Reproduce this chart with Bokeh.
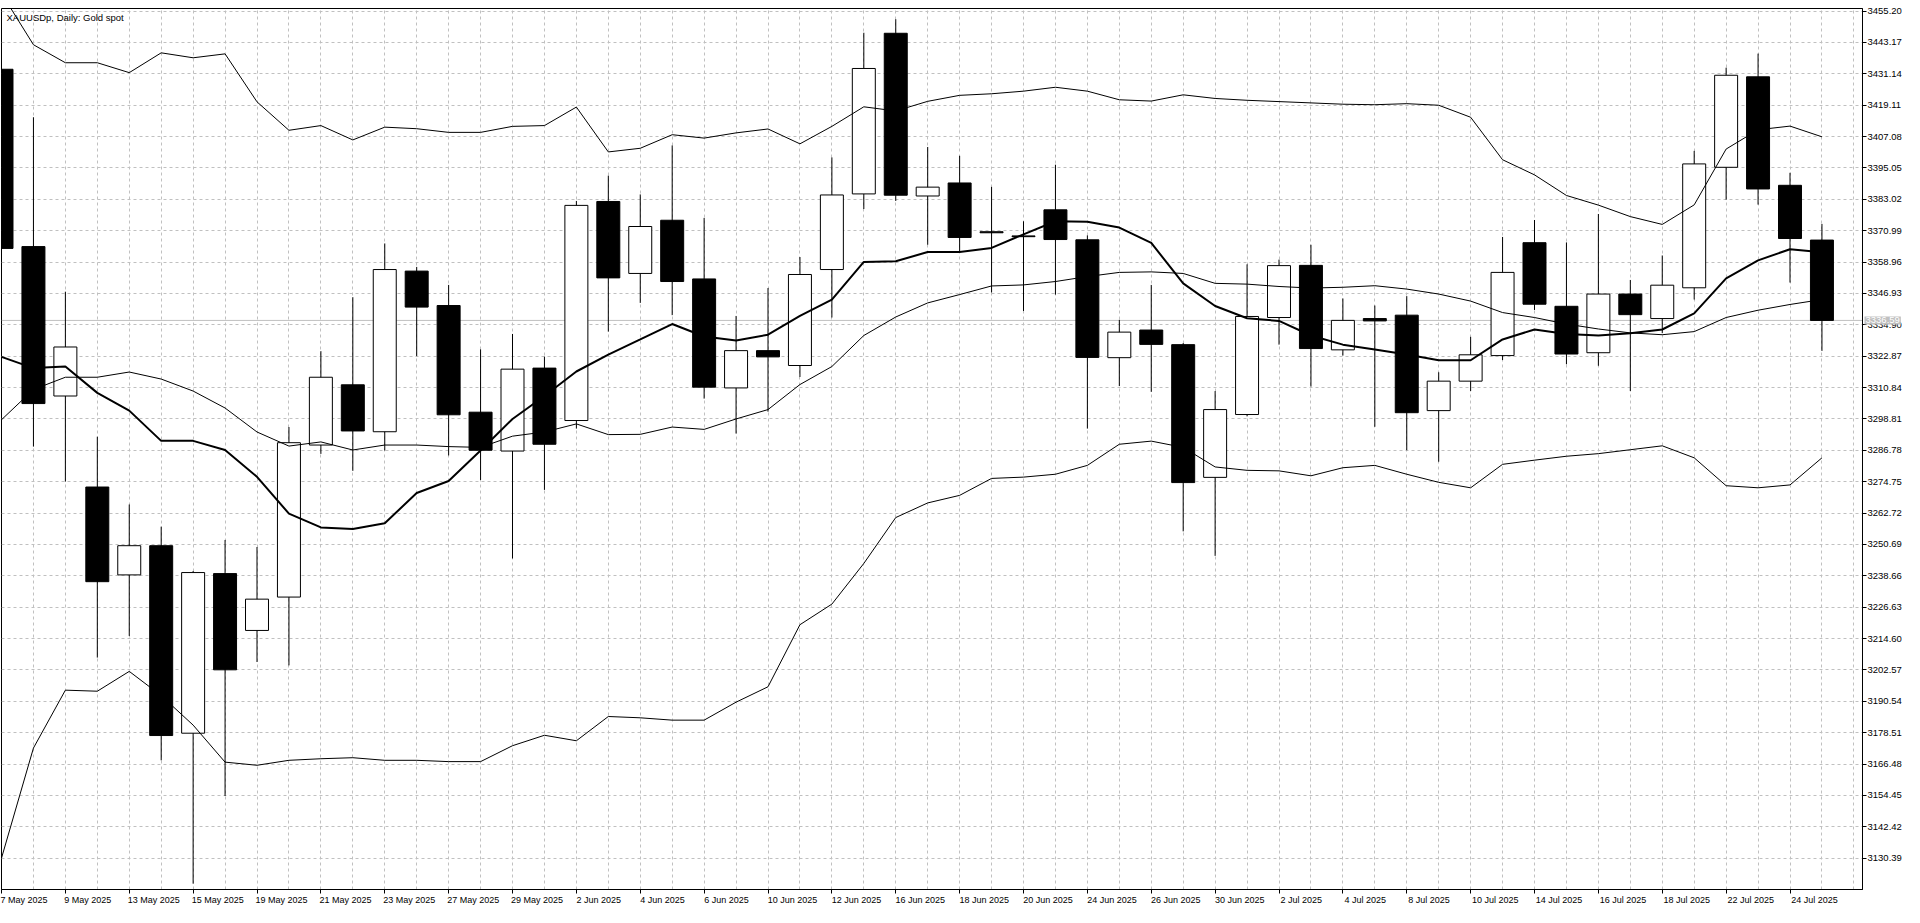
from bokeh.plotting import figure
from bokeh.models import Range1d, FixedTicker, PrintfTickFormatter, Label, Span
from bokeh.embed import file_html
from bokeh.resources import INLINE

# daily candles, 7 May 2025 .. 25 Jul 2025
dates = ["7 May 2025", "8 May 2025", "9 May 2025", "12 May 2025", "13 May 2025",
         "14 May 2025", "15 May 2025", "16 May 2025", "19 May 2025", "20 May 2025",
         "21 May 2025", "22 May 2025", "23 May 2025", "26 May 2025", "27 May 2025",
         "28 May 2025", "29 May 2025", "30 May 2025", "2 Jun 2025", "3 Jun 2025",
         "4 Jun 2025", "5 Jun 2025", "6 Jun 2025", "9 Jun 2025", "10 Jun 2025",
         "11 Jun 2025", "12 Jun 2025", "13 Jun 2025", "16 Jun 2025", "17 Jun 2025",
         "18 Jun 2025", "19 Jun 2025", "20 Jun 2025", "23 Jun 2025", "24 Jun 2025",
         "25 Jun 2025", "26 Jun 2025", "27 Jun 2025", "30 Jun 2025", "1 Jul 2025",
         "2 Jul 2025", "3 Jul 2025", "4 Jul 2025", "7 Jul 2025", "8 Jul 2025",
         "9 Jul 2025", "10 Jul 2025", "11 Jul 2025", "14 Jul 2025", "15 Jul 2025",
         "16 Jul 2025", "17 Jul 2025", "18 Jul 2025", "21 Jul 2025", "22 Jul 2025",
         "23 Jul 2025", "24 Jul 2025", "25 Jul 2025"]

opens = [3432.9, 3364.9, 3307.6, 3272.7, 3239.0, 3250.2, 3178.3, 3239.5, 3217.7, 3230.5,
         3288.8, 3311.9, 3293.9, 3355.5, 3342.3, 3301.4, 3286.5, 3318.3, 3298.2, 3382.2,
         3354.6, 3375.0, 3352.5, 3310.7, 3325.0, 3319.3, 3356.1, 3385.1, 3446.7, 3384.3,
         3389.3, 3370.6, 3369.0, 3379.0, 3367.5, 3322.3, 3332.9, 3327.3, 3276.4, 3300.5,
         3337.7, 3357.7, 3325.3, 3337.3, 3338.6, 3302.0, 3313.3, 3323.1, 3366.4, 3342.0,
         3324.2, 3346.7, 3337.3, 3349.1, 3395.3, 3430.0, 3388.4, 3367.4]
highs = [3435.0, 3414.5, 3347.6, 3292.0, 3266.0, 3257.5, 3240.5, 3252.4, 3249.7, 3295.7,
         3324.8, 3345.5, 3366.1, 3357.1, 3350.2, 3325.5, 3331.4, 3322.7, 3382.4, 3392.1,
         3384.9, 3403.7, 3375.9, 3338.3, 3349.0, 3360.9, 3399.1, 3446.9, 3452.1, 3403.1,
         3399.7, 3387.8, 3374.6, 3396.3, 3369.2, 3336.8, 3350.2, 3327.9, 3309.5, 3358.1,
         3359.9, 3365.6, 3345.0, 3342.3, 3345.9, 3316.7, 3330.3, 3368.6, 3375.1, 3366.5,
         3377.4, 3352.1, 3361.5, 3401.6, 3433.5, 3438.9, 3393.2, 3373.6]
lows = [3363.0, 3288.2, 3274.8, 3207.3, 3215.6, 3167.9, 3120.6, 3154.2, 3205.6, 3204.3,
        3285.4, 3278.9, 3286.7, 3322.9, 3284.8, 3275.4, 3245.3, 3271.6, 3295.1, 3332.3,
        3343.3, 3338.6, 3306.6, 3293.2, 3301.6, 3314.9, 3337.7, 3379.3, 3382.4, 3365.6,
        3362.8, 3347.3, 3340.2, 3346.5, 3295.1, 3311.4, 3309.2, 3255.7, 3246.3, 3299.8,
        3327.3, 3311.2, 3323.1, 3295.8, 3286.8, 3282.4, 3309.5, 3321.4, 3340.6, 3319.8,
        3319.2, 3309.5, 3331.7, 3344.6, 3382.9, 3381.0, 3351.1, 3324.9]
closes = [3364.2, 3304.7, 3326.4, 3236.4, 3250.2, 3177.4, 3239.9, 3202.6, 3229.7, 3289.7,
          3314.8, 3294.2, 3356.1, 3341.7, 3300.4, 3286.8, 3317.9, 3289.1, 3380.7, 3352.9,
          3372.6, 3351.5, 3311.0, 3325.0, 3322.6, 3354.2, 3384.7, 3433.2, 3384.6, 3387.7,
          3368.4, 3370.2, 3368.7, 3367.6, 3322.4, 3332.1, 3327.4, 3274.4, 3302.4, 3338.1,
          3357.6, 3325.8, 3336.6, 3336.4, 3301.2, 3313.3, 3323.4, 3355.0, 3342.8, 3323.7,
          3346.7, 3338.8, 3350.1, 3396.6, 3430.6, 3387.0, 3368.0, 3336.59]

# Bollinger bands and moving average
bb_upper = [3462.0, 3442.3, 3435.4, 3435.4, 3431.6, 3439.2, 3437.3, 3438.8, 3420.4, 3409.5,
            3411.3, 3405.8, 3410.7, 3410.1, 3408.7, 3408.7, 3411.0, 3411.3, 3418.4, 3401.2,
            3402.6, 3407.8, 3406.5, 3408.5, 3410.0, 3404.3, 3411.0, 3418.5, 3416.9, 3420.6,
            3422.9, 3423.5, 3424.5, 3426.0, 3424.5, 3421.2, 3420.7, 3423.1, 3421.7, 3421.0,
            3420.5, 3420.0, 3419.5, 3419.3, 3419.7, 3419.1, 3414.5, 3398.2, 3392.4, 3384.5,
            3380.8, 3376.4, 3373.4, 3380.9, 3402.3, 3409.7, 3411.1, 3407.0]
bb_middle = [3298.5, 3310.1, 3314.8, 3314.8, 3316.8, 3314.1, 3309.5, 3303.0, 3293.8, 3288.4,
             3290.0, 3286.9, 3288.8, 3288.8, 3288.2, 3287.9, 3292.2, 3293.8, 3296.9, 3292.8,
             3292.9, 3295.7, 3294.8, 3298.8, 3302.4, 3312.0, 3318.9, 3330.8, 3337.9, 3343.3,
             3346.5, 3349.8, 3350.2, 3351.5, 3353.4, 3355.0, 3355.2, 3354.6, 3350.8, 3350.5,
             3349.6, 3349.0, 3349.3, 3349.9, 3348.6, 3346.7, 3344.0, 3339.6, 3337.7, 3335.2,
             3333.3, 3331.8, 3331.1, 3332.3, 3337.7, 3340.5, 3342.7, 3344.6]
bb_lower = [3130.4, 3172.6, 3194.8, 3194.4, 3202.0, 3192.7, 3181.4, 3167.2, 3166.0, 3167.9,
            3168.5, 3168.9, 3167.9, 3167.9, 3167.4, 3167.4, 3173.5, 3177.5, 3175.4, 3184.7,
            3184.2, 3183.3, 3183.3, 3190.2, 3196.1, 3219.9, 3227.8, 3243.4, 3261.0, 3266.6,
            3269.5, 3276.0, 3276.5, 3277.6, 3281.0, 3289.1, 3290.3, 3287.9, 3280.4, 3279.1,
            3278.9, 3277.0, 3280.1, 3281.0, 3277.6, 3274.5, 3272.4, 3281.4, 3283.0, 3284.5,
            3285.5, 3287.0, 3288.5, 3283.9, 3273.2, 3272.4, 3273.5, 3283.9]
ma = [3322.6, 3318.3, 3318.9, 3308.8, 3302.0, 3290.4, 3290.4, 3286.9, 3276.6, 3262.5,
      3257.2, 3256.6, 3258.8, 3270.4, 3275.0, 3286.7, 3298.8, 3307.6, 3317.0, 3323.5,
      3329.3, 3335.2, 3330.4, 3328.9, 3331.1, 3338.3, 3344.6, 3359.0, 3359.3, 3362.8,
      3362.8, 3364.4, 3369.6, 3374.6, 3374.4, 3372.2, 3366.3, 3350.8, 3342.1, 3337.4,
      3336.4, 3330.8, 3327.3, 3325.4, 3323.5, 3321.3, 3321.3, 3329.3, 3333.1, 3331.4,
      3330.8, 3331.7, 3333.1, 3339.3, 3352.7, 3359.6, 3363.9, 3362.7]

price_ticks = [3130.39, 3142.42, 3154.45, 3166.48, 3178.51, 3190.54, 3202.57, 3214.60,
               3226.63, 3238.66, 3250.69, 3262.72, 3274.75, 3286.78, 3298.81, 3310.84,
               3322.87, 3334.90, 3346.93, 3358.96, 3370.99, 3383.02, 3395.05, 3407.08,
               3419.11, 3431.14, 3443.17, 3455.20]
last_price = 3336.59

idx = list(range(len(dates)))
FONT = "Liberation Sans"

p = figure(width=1904, height=907,
           x_range=Range1d(0, 58.27), y_range=Range1d(3118.36, 3456.2),
           y_axis_location="right", toolbar_location=None, output_backend="svg",
           min_border_left=1, min_border_top=4, min_border_right=0, min_border_bottom=0,
           background_fill_color="white", border_fill_color="white")
p.outline_line_color = "black"
p.outline_line_width = 1

# grid: one vertical line per bar, one horizontal line per price tick
p.xgrid.ticker = FixedTicker(ticks=list(range(len(dates) + 1)))
p.ygrid.ticker = FixedTicker(ticks=price_ticks)
for g in (p.xgrid, p.ygrid):
    g.grid_line_color = "#c0c0c0"
    g.grid_line_dash = "3 3"
    g.grid_line_width = 1

# price scale on the right
p.yaxis.ticker = FixedTicker(ticks=price_ticks)
p.yaxis.formatter = PrintfTickFormatter(format="%.2f")
p.yaxis.major_tick_out = 4
p.yaxis.major_tick_in = 0
p.yaxis.minor_tick_out = 0
p.yaxis.minor_tick_in = 0
p.yaxis.major_label_standoff = 1
p.yaxis.major_label_text_font = FONT
p.yaxis.major_label_text_font_size = "9.5px"
p.yaxis.major_label_text_color = "black"
p.yaxis.axis_line_color = "black"
p.yaxis.major_tick_line_color = "black"

# date labels every second bar, text starting at the bar (MT5 style)
label_idx = idx[::2]
label_txt = [dates[i] for i in label_idx]
centers = [i + 0.07 * len(t) for i, t in zip(label_idx, label_txt)]
p.xaxis.ticker = FixedTicker(ticks=centers, minor_ticks=label_idx)
p.xaxis.major_label_overrides = {c: t for c, t in zip(centers, label_txt)}
p.xaxis.major_tick_out = 0
p.xaxis.major_tick_in = 0
p.xaxis.minor_tick_out = 4
p.xaxis.minor_tick_in = 0
p.xaxis.minor_tick_line_color = "black"
p.xaxis.major_label_standoff = 1
p.xaxis.major_label_text_font = FONT
p.xaxis.major_label_text_font_size = "9px"
p.xaxis.major_label_text_line_height = 1.0
p.xaxis.major_label_text_color = "black"
p.xaxis.axis_line_color = "black"

# last price line
p.add_layout(Span(location=last_price, dimension="width", line_color="#c0c0c0",
                  line_width=1, level="underlay"))

# candles
body_top = [max(o, c) for o, c in zip(opens, closes)]
body_bot = [min(o, c) for o, c in zip(opens, closes)]
fills = ["white" if c >= o else "black" for o, c in zip(opens, closes)]
p.segment(x0=idx, y0=lows, x1=idx, y1=highs, line_color="black", line_width=1)
p.vbar(x=idx, width=0.72, top=body_top, bottom=body_bot, fill_color=fills,
       line_color="black", line_width=1)

# indicators
p.line(idx, bb_upper, line_color="black", line_width=1)
p.line(idx, bb_middle, line_color="black", line_width=1)
p.line(idx, bb_lower, line_color="black", line_width=1)
p.line(idx, ma, line_color="black", line_width=2)

p.add_layout(Label(x=0, y=3456.2, x_offset=5, y_offset=-3, text="XAUUSDp, Daily:  Gold spot",
                   text_font=FONT, text_font_size="9.5px", text_color="black",
                   text_baseline="top", text_align="left"))

# last price tag on the price scale; kept in a side panel so the frame does not clip it
p.add_layout(Label(x=58.27, y=last_price, x_offset=2, text="%.2f" % last_price,
                   text_font=FONT, text_font_size="9.5px", text_color="white",
                   text_line_height=1.0, padding=1,
                   text_baseline="middle", text_align="left", level="overlay",
                   background_fill_color="#c0c0c0", background_fill_alpha=1.0),
             "above")

open("out.html", "w").write(file_html(p, INLINE))
